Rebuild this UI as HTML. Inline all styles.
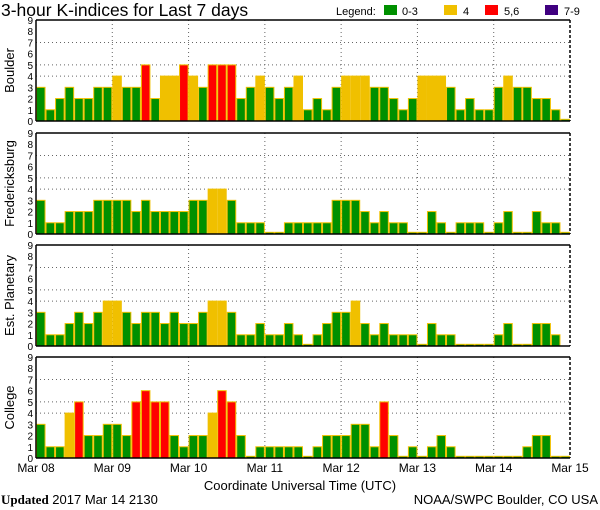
<!DOCTYPE html>
<html><head><meta charset="utf-8"><style>
body{margin:0;background:#fff}
svg{display:block;font-family:"Liberation Sans",sans-serif}
</style></head><body>
<svg id="c" width="600" height="510" viewBox="0 0 600 510">
<text x="1" y="16" font-size="17.5">3-hour K-indices for Last 7 days</text>
<g font-size="11">
<text x="336" y="15">Legend:</text>
<rect x="384" y="5" width="13" height="10" fill="#009000"/><text x="402" y="15">0-3</text>
<rect x="444" y="5" width="13" height="10" fill="#f0c000"/><text x="463" y="15">4</text>
<rect x="485" y="5" width="13" height="10" fill="#ff0000"/><text x="504" y="15">5,6</text>
<rect x="545" y="5" width="13" height="10" fill="#400080"/><text x="564" y="15">7-9</text>
</g>
<g id="panels"></g>
<text x="300" y="490" font-size="13" text-anchor="middle">Coordinate Universal Time (UTC)</text>
<text x="1" y="504" font-size="13"><tspan font-family="Liberation Serif" font-weight="bold">Updated</tspan> 2017 Mar 14 2130</text>
<text x="598" y="504" font-size="13" text-anchor="end">NOAA/SWPC Boulder, CO USA</text>
</svg>
<script>
const stations = ["Boulder","Fredericksburg","Est. Planetary","College"];
const boulder = [3,1,2,3,2,2,3,3, 4,3,3,5,2,4,4,5, 4,3,5,5,5,2,3,4, 3,2,3,4,1,2,1,3, 4,4,4,3,3,2,1,2, 4,4,4,3,1,2,1,1, 3,4,3,3,2,2,1,0];
const fredericksburg = [3,1,1,2,2,2,3,3, 3,3,2,3,2,2,2,2, 3,3,4,4,3,1,1,1, 0,0,1,1,1,1,1,3, 3,3,2,1,2,1,1,0, 0,2,1,0,1,1,1,0, 1,2,0,0,2,1,1,0];
const planetary = [3,1,1,2,3,2,3,4, 4,3,2,3,3,2,3,2, 2,3,4,4,3,1,1,2, 1,1,2,1,0,1,2,3, 3,4,2,1,2,1,1,1, 0,2,1,1,0,0,0,0, 1,2,0,0,2,2,1,null];
const college = [3,1,1,4,5,2,2,3, 3,2,5,6,5,5,2,1, 2,2,4,6,5,2,0,1, 1,1,1,1,0,1,2,2, 2,3,3,1,5,2,0,1, 0,1,2,1,0,0,0,0, 0,0,0,1,2,2,0,0];
const series = [boulder, fredericksburg, planetary, college];
const dayLabels = ["Mar 08","Mar 09","Mar 10","Mar 11","Mar 12","Mar 13","Mar 14","Mar 15"];
const yTicks = [0,1,2,3,4,5,6,7,8,9];
const gridLevels = [4,5,7];

const NS="http://www.w3.org/2000/svg";
const X0=36, X1=570, N=56;
const bottoms=[121,234,346,458], H=101;
const xs=i=>X0+(X1-X0)*i/N;
function mk(t,a,p){const e=document.createElementNS(NS,t);for(const k in a)e.setAttribute(k,a[k]);p.appendChild(e);return e;}
const root=document.getElementById('panels');
function color(v){return v<=3?"#009000":v==4?"#f0c000":v<=6?"#ff0000":"#400080";}
series.forEach((data,p)=>{
  const B=bottoms[p], T=B-H, ys=v=>B-v*H/9;
  const g=mk('g',{},root);
  
  
  gridLevels.forEach(l=>mk('line',{x1:X0,x2:X1,y1:ys(l),y2:ys(l),stroke:"#666","stroke-dasharray":"1,3"},g));
  for(let d=1;d<7;d++){const x=xs(d*8);mk('line',{x1:x,x2:x,y1:T,y2:B,stroke:"#666","stroke-dasharray":"1,3"},g);}
  data.forEach((v,i)=>{
    if(v===null)return;
    const h=v===0?0.15:v;
    const r=mk('rect',{x:xs(i)+0.5,y:ys(h),width:(X1-X0)/N-1,height:B-ys(h),fill:color(v),stroke:"#f0c000","stroke-width":1},g);
    
    
  });
  mk('line',{x1:X0,x2:X1,y1:T,y2:T,stroke:"#000","stroke-width":1.5},g);
  mk('line',{x1:X0,x2:X1,y1:B,y2:B,stroke:"#000","stroke-width":1.5},g);
  mk('line',{x1:X0,x2:X0,y1:T,y2:B,stroke:"#000","stroke-width":1.5},g);
  mk('line',{x1:X1,x2:X1,y1:T,y2:B,stroke:"#000","stroke-width":1.5,"stroke-dasharray":"3,2"},g);
  yTicks.forEach(t=>{const e=mk('text',{x:33,y:ys(t)+4,"font-size":10,"text-anchor":"end"},g);e.textContent=t;});
  const lbl=mk('text',{x:0,y:0,"font-size":13,"text-anchor":"middle",transform:`translate(14,${(T+B)/2}) rotate(-90)`},g);
  lbl.textContent=stations[p];
  
  
});
dayLabels.forEach((d,i)=>{
  const e=mk('text',{x:xs(i*8),y:472,"font-size":12,"text-anchor":"middle"},root);
  e.textContent=d;
  
  
});
</script>
</body></html>
